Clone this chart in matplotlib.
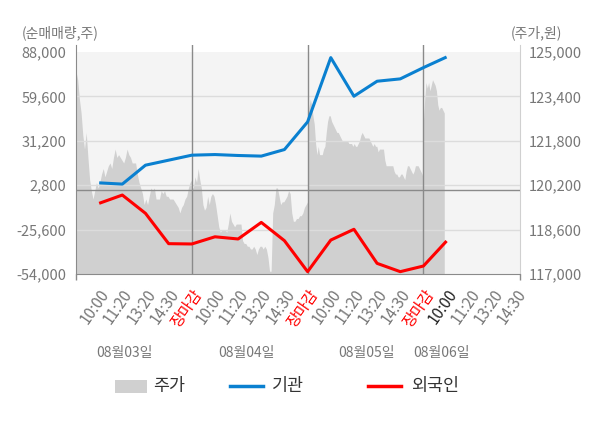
import numpy as np
import matplotlib
matplotlib.use("Agg")
import matplotlib.pyplot as plt
from matplotlib.patches import Rectangle
from matplotlib.lines import Line2D

plt.rcParams['font.family'] = ['Noto Sans CJK KR', 'DejaVu Sans']

# --- DATA ---
times = ['10:00', '11:20', '13:20', '14:30', '장마감'] * 3 + ['10:00', '11:20', '13:20', '14:30']
dates = ['08월03일', '08월04일', '08월05일', '08월06일']

# net buying volume (shares), one point per time slot
inst = [4300, 3500, 15600, 18800, 22000, 22400, 21800, 21400, 25600, 43300,
        84400, 59700, 69300, 70800, 78000, 84800]
foreign = [-8800, -3500, -15200, -34600, -34800, -30200, -31600, -21000, -32700, -52500,
           -32300, -25400, -47200, -52500, -48900, -32900]

# intraday price (won), evenly sampled within each day
price_d1 = [124300, 124000, 123300, 122800, 122000, 121500, 122100, 121200, 120400, 120000,
            119700, 120000, 120300, 120100, 120300, 120600, 120800, 120500, 120700, 120900,
            121000, 120800, 121200, 121500, 121200, 121300, 121200, 121100, 121000, 121200,
            121500, 121300, 121200, 121000, 121000, 121000, 120600, 120300, 120100, 119900,
            119500, 119700, 119500, 119800, 120100, 120000, 120100, 119700, 119700, 119700,
            120000, 119900, 120000, 119800, 119800, 119700, 119700, 119700, 119600, 119500,
            119400, 119200, 119400, 119500, 119700, 119800, 120100, 120300, 120400]
price_d2 = [120100, 120100, 120500, 120300, 120800, 120400, 120100, 119500, 119300, 119400,
            119800, 119500, 119800, 119900, 119800, 119500, 119100, 118700, 118500, 118600,
            118600, 118600, 118500, 118800, 119200, 118900, 118800, 118700, 118800, 118800,
            118800, 118800, 118200, 118100, 118100, 118000, 118000, 117900, 117900, 118000,
            117900, 117700, 117900, 118000, 118000, 117900, 118000, 117900, 117600, 117100,
            117100, 119200, 119500, 120100, 120100, 119800, 119500, 119600, 119600, 119700,
            119800, 120000, 119900, 119200, 118900, 118900, 119000, 119000, 119100, 119100,
            119200, 119400, 119500, 119600]
price_d3 = [122500, 123000, 123300, 123100, 122700, 122400, 121700, 121300, 121600, 121300,
            121300, 121300, 121500, 121600, 122100, 122500, 122700, 122700, 122500, 122400,
            122300, 122200, 122100, 122100, 122000, 121900, 121800, 121800, 121800, 121800,
            121800, 121700, 121700, 121700, 121600, 121700, 121600, 121600, 121700, 121800,
            122000, 122100, 122000, 121900, 121900, 121900, 121900, 121800, 121700, 121600,
            121700, 121600, 121600, 121400, 121500, 121500, 121500, 121500, 121100, 120900,
            120900, 120900, 120900, 120900, 120900, 120700, 120600, 120600, 120500, 120500,
            120600, 120600, 120500, 120400, 120700, 120900, 120900, 120800, 120700, 120600,
            120700, 120900, 120900, 120900, 120800, 120700, 120600, 120400]
price_d4 = [122500, 123300, 123900, 123700, 123900, 123600, 123800, 124000, 123900, 123800,
            123600, 123100, 122900, 123000, 123000, 122900, 122800]
day4_end = 15.9  # last traded slot on the partial day

SLOTS_PER_DAY = 5
BLUE = '#0a80d0'
RED = '#ff0000'
GREY = '#666666'

# --- FIGURE ---
fig = plt.figure(figsize=(6, 4.28), dpi=100)
ax = fig.add_axes([76 / 600, 1 - 274 / 428, 444 / 600, 229 / 428])
ax2 = ax.twinx()
ax.set_zorder(ax2.get_zorder() + 1)
ax.patch.set_visible(False)

# price area on the right axis
days = [price_d1, price_d2, price_d3, price_d4]
px, py = [], []
for d, vals in enumerate(days):
    start = d * SLOTS_PER_DAY
    end = start + SLOTS_PER_DAY if d < 3 else day4_end
    px.append(np.linspace(start, end, len(vals)))
    py.append(vals)
px = np.concatenate(px)
py = np.concatenate(py)

ax2.axhspan(117000, 125000, color='#f4f4f4', lw=0, zorder=0)
ax2.fill_between(px, py, 117000, color='#d0d0d0', lw=0, zorder=1)
ax2.set_ylim(117000, 125250)
ax2.set_yticks(np.arange(117000, 125001, 1600))
ax2.set_yticklabels([f'{v:,}' for v in range(117000, 125001, 1600)])
ax2.tick_params(axis='y', length=0, pad=6, labelsize=10.5, labelcolor='#777777')

# left axis: net buying
left_ticks = [-54000, -25600, 2800, 31200, 59600, 88000]
ax.set_ylim(-54000, 92470)
ax.set_yticks(left_ticks)
ax.set_yticklabels([f'{v:,}' for v in left_ticks])
ax.tick_params(axis='y', length=0, pad=7, labelsize=10.5, labelcolor='#777777')
for v in left_ticks[1:-1]:
    ax.axhline(v, color='#dcdcdc', lw=1, zorder=1)
ax.axhline(0, color='#8a8a8a', lw=1, zorder=2)
for d in range(1, 4):
    ax.axvline(d * SLOTS_PER_DAY, color='#8a8a8a', lw=1, zorder=2)

slots = np.arange(1, len(inst) + 1)
ax.plot(slots, inst, color=BLUE, lw=2.2, zorder=4, solid_capstyle='butt')
ax.plot(slots, foreign, color=RED, lw=2.2, zorder=4, solid_capstyle='butt')

# x axis
ax.set_xlim(0, 19.17)
tick_pos = np.arange(1, len(times) + 1)
ax.set_xticks(tick_pos)
ax.set_xticklabels(times, rotation=55, ha='right', va='top', rotation_mode='anchor')
ax.tick_params(axis='x', length=0, pad=9, labelsize=11, labelcolor='#777777')
for lbl, t in zip(ax.get_xticklabels(), range(len(times))):
    if times[t] == '장마감':
        lbl.set_color(RED)
    elif t == 15:
        lbl.set_color('#222222')
ax.set_xticks([0, 5, 10, 15, 19.17], minor=True)
ax.tick_params(axis='x', which='minor', length=4, color='#8a8a8a', width=1)

date_pos = [2.1, 7.35, 12.55, 15.8]
for x, s in zip(date_pos, dates):
    ax.text(x, -0.345, s, transform=ax.get_xaxis_transform(), ha='center', va='center',
            fontsize=10, color='#777777')

for a in (ax, ax2):
    a.spines['top'].set_visible(False)
ax.spines['left'].set_color('#8a8a8a')
ax.spines['bottom'].set_color('#8a8a8a')
ax.spines['right'].set_visible(False)
ax2.spines['left'].set_visible(False)
ax2.spines['bottom'].set_visible(False)
ax2.spines['right'].set_color('#d0d0d0')

fig.text(22 / 600, 1 - 33 / 428, '(순매매량,주)', ha='left', va='center', fontsize=10, color='#777777')
fig.text(562 / 600, 1 - 33 / 428, '(주가,원)', ha='right', va='center', fontsize=10, color='#777777')

# legend
ly = 1 - 386 / 428
fig.add_artist(Rectangle((115 / 600, ly - 6.5 / 428), 32 / 600, 13 / 428,
                         transform=fig.transFigure, color='#d0d0d0', lw=0))
fig.text(153 / 600, ly, '주가', ha='left', va='center', fontsize=12.5, color='#333333')
fig.add_artist(Line2D([230 / 600, 263 / 600], [ly, ly], transform=fig.transFigure, color=BLUE, lw=2.5))
fig.text(272 / 600, ly, '기관', ha='left', va='center', fontsize=12.5, color='#333333')
fig.add_artist(Line2D([368 / 600, 401 / 600], [ly, ly], transform=fig.transFigure, color=RED, lw=2.5))
fig.text(411 / 600, ly, '외국인', ha='left', va='center', fontsize=12.5, color='#333333')

fig.savefig('out.png', dpi=100)
